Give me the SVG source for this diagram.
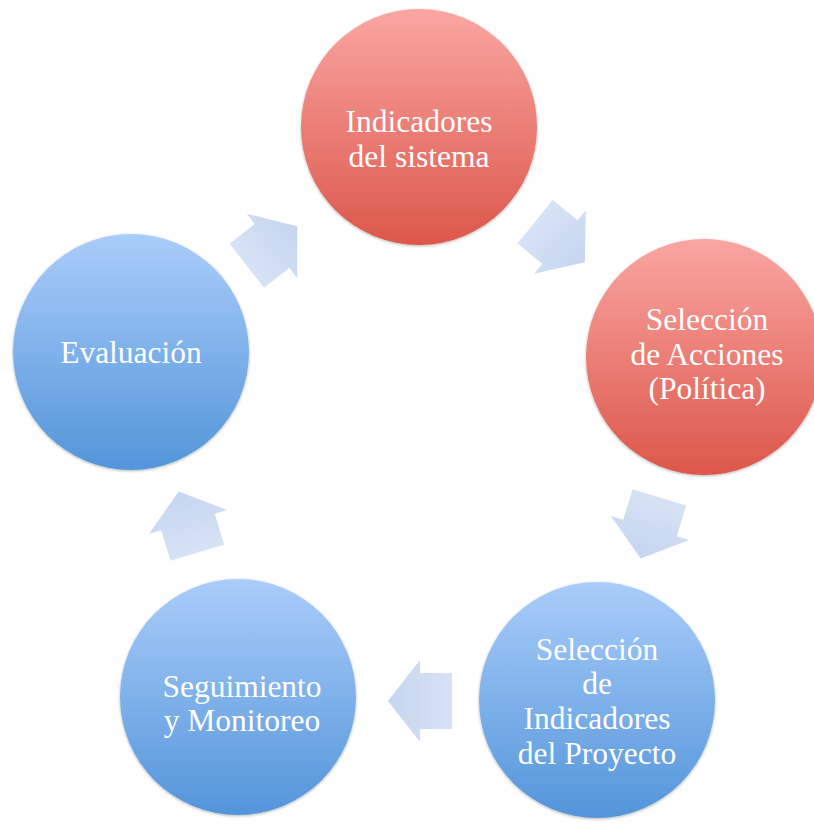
<svg xmlns="http://www.w3.org/2000/svg" width="814" height="825" viewBox="0 0 814 825">
<style>
.lbl{font-family:"Liberation Serif","Times New Roman",serif;font-size:31.5px;fill:#ffffff;text-anchor:middle}
.arr{fill:url(#ga)}
</style>
<defs>
<linearGradient id="gr" x1="0" y1="0" x2="0" y2="1">
<stop offset="0" stop-color="#faa6a2"/>
<stop offset="1" stop-color="#dc574b"/>
</linearGradient>
<linearGradient id="gb" x1="0" y1="0" x2="0" y2="1">
<stop offset="0" stop-color="#aacdfa"/>
<stop offset="1" stop-color="#5395da"/>
</linearGradient>
<linearGradient id="ga" x1="0" y1="0" x2="1" y2="0">
<stop offset="0" stop-color="#d6e2f5"/>
<stop offset="1" stop-color="#c6d6f0"/>
</linearGradient>
<filter id="sh" x="-10%" y="-10%" width="120%" height="120%">
<feGaussianBlur in="SourceAlpha" stdDeviation="1.5"/>
<feOffset dx="0" dy="1" result="b"/>
<feComponentTransfer><feFuncA type="linear" slope="0.3"/></feComponentTransfer>
<feMerge><feMergeNode/><feMergeNode in="SourceGraphic"/></feMerge>
</filter>
<path id="arrow" d="M-32,-28 L0,-28 L0,-41 L32,0 L0,41 L0,28 L-32,28 Z"/>
</defs>
<rect width="814" height="825" fill="#ffffff"/>
<g id="connectors">
<use href="#arrow" class="arr" transform="translate(272,246) rotate(-38)"/>
<use href="#arrow" class="arr" transform="translate(560,242) rotate(39)"/>
<use href="#arrow" class="arr" transform="translate(650,528) rotate(107)"/>
<use href="#arrow" class="arr" transform="translate(420,701) rotate(180)"/>
<use href="#arrow" class="arr" transform="translate(188,522) rotate(253)"/>
</g>
<g id="node-indicadores-sistema">
<circle cx="419" cy="127" r="118" fill="url(#gr)" filter="url(#sh)"/>
<text class="lbl" x="419" y="132">Indicadores</text>
<text class="lbl" x="419" y="167">del sistema</text>
</g>
<g id="node-seleccion-acciones">
<circle cx="704" cy="357" r="118" fill="url(#gr)" filter="url(#sh)"/>
<text class="lbl" x="707" y="330">Selección</text>
<text class="lbl" x="707" y="365">de Acciones</text>
<text class="lbl" x="707" y="399">(Política)</text>
</g>
<g id="node-seleccion-indicadores">
<circle cx="597" cy="700" r="118" fill="url(#gb)" filter="url(#sh)"/>
<text class="lbl" x="597" y="660">Selección</text>
<text class="lbl" x="597" y="694">de</text>
<text class="lbl" x="597" y="729">Indicadores</text>
<text class="lbl" x="597" y="764">del Proyecto</text>
</g>
<g id="node-seguimiento">
<circle cx="238" cy="697" r="118" fill="url(#gb)" filter="url(#sh)"/>
<text class="lbl" x="242" y="697">Seguimiento</text>
<text class="lbl" x="242" y="731">y Monitoreo</text>
</g>
<g id="node-evaluacion">
<circle cx="131" cy="352" r="118" fill="url(#gb)" filter="url(#sh)"/>
<text class="lbl" x="131" y="363">Evaluación</text>
</g>
</svg>
